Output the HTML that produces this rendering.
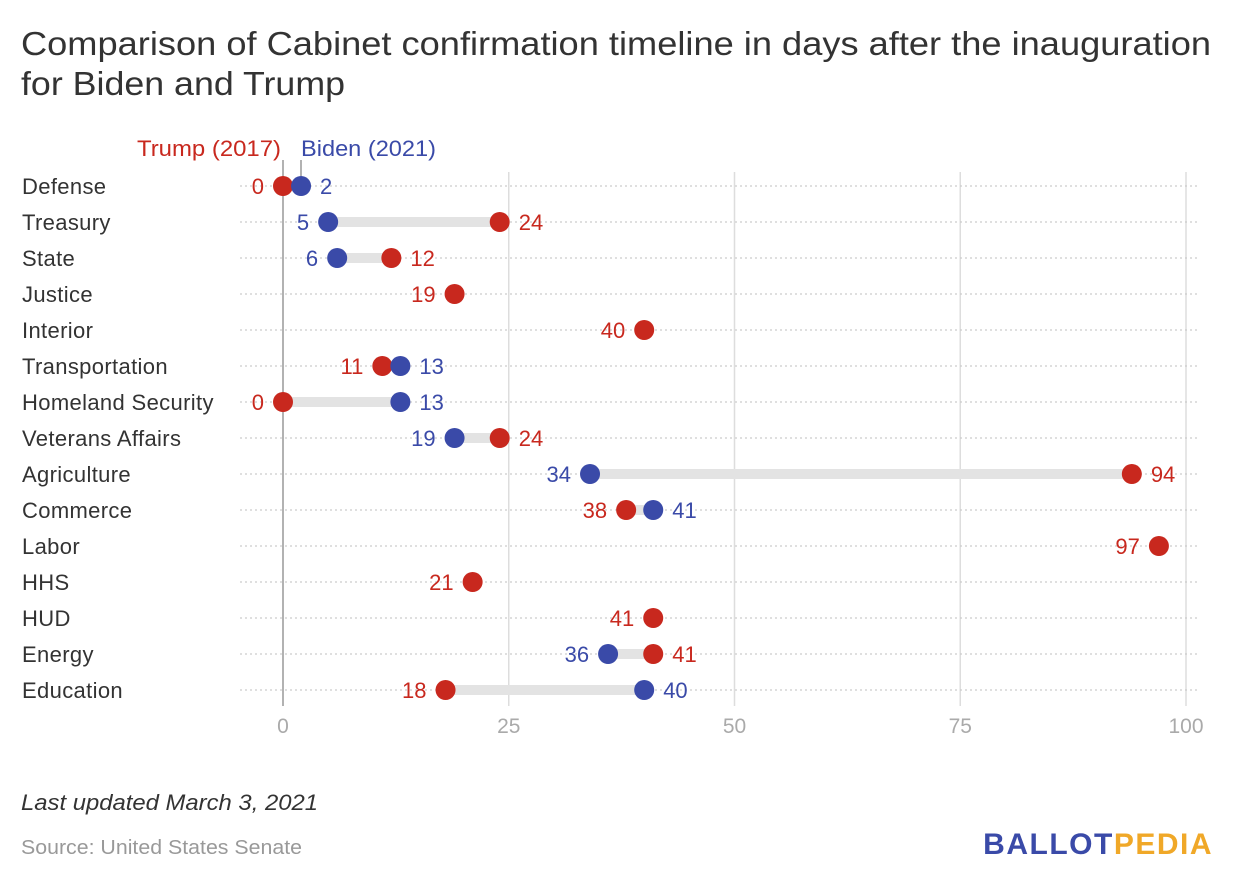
<!DOCTYPE html>
<html><head><meta charset="utf-8"><style>
body{margin:0;background:#fff;width:1240px;height:888px;overflow:hidden;font-family:"Liberation Sans",sans-serif}
</style></head><body>
<svg id="chart" width="1240" height="888" xmlns="http://www.w3.org/2000/svg" font-family="Liberation Sans, sans-serif">
<text x="21" y="55" font-size="33" fill="#333" textLength="1190" lengthAdjust="spacingAndGlyphs">Comparison of Cabinet confirmation timeline in days after the inauguration</text>
<text x="21" y="95" font-size="33" fill="#333" textLength="324" lengthAdjust="spacingAndGlyphs">for Biden and Trump</text>
<g id="grid"></g><g id="rows"></g><g id="marks"></g>
<text x="281" y="156" font-size="22" fill="#c8281e" text-anchor="end" textLength="144" lengthAdjust="spacingAndGlyphs">Trump (2017)</text>
<text x="301" y="156" font-size="22" fill="#3a4aa8" textLength="135" lengthAdjust="spacingAndGlyphs">Biden (2021)</text>
<line x1="301" y1="160" x2="301" y2="176" stroke="#999" stroke-width="1.5"/>
<text x="21" y="810" font-size="22" font-style="italic" fill="#333" textLength="297" lengthAdjust="spacingAndGlyphs">Last updated March 3, 2021</text>
<text x="21" y="854" font-size="20" fill="#999" textLength="281" lengthAdjust="spacingAndGlyphs">Source: United States Senate</text>
<text x="1213" y="854" font-size="30" font-weight="bold" letter-spacing="1.5" text-anchor="end"><tspan fill="#3a4aa8">BALLOT</tspan><tspan fill="#f0a828">PEDIA</tspan></text>
</svg>
<script>
const categories=["Defense","Treasury","State","Justice","Interior","Transportation","Homeland Security","Veterans Affairs","Agriculture","Commerce","Labor","HHS","HUD","Energy","Education"];
const trump=[0,24,12,19,40,11,0,24,94,38,97,21,41,41,18];
const biden=[2,5,6,null,null,13,13,19,34,41,null,null,null,36,40];
const ticks=[0,25,50,75,100];
const NS="http://www.w3.org/2000/svg";
const xS=v=>283+v*9.03;
const yS=i=>186+i*36;
const RED="#c8281e",BLUE="#3a4aa8";
function mk(parent,tag,attrs,txt){const e=document.createElementNS(NS,tag);for(const k in attrs)e.setAttribute(k,attrs[k]);if(txt!==undefined)e.textContent=txt;document.getElementById(parent).appendChild(e);return e;}
ticks.forEach(t=>{
  const l=mk("grid","line",{x1:xS(t),x2:xS(t),y1:t===0?160:172,y2:706,stroke:t===0?"#999":"#ddd","stroke-width":1.5});
  
  
  const tx=mk("grid","text",{x:xS(t),y:733,"font-size":21,fill:"#aaa","text-anchor":"middle"},t);
  
  
});
categories.forEach((c,i)=>{
  const y=yS(i);
  const r=mk("rows","line",{x1:240,x2:1200,y1:y,y2:y,stroke:"#ccc","stroke-width":1.2,"stroke-dasharray":"2 3"});
  
  
  const lab=mk("rows","text",{x:22,y:y+8,"font-size":22,fill:"#333","letter-spacing":"0.35"},c);
  
  
  const pts=[];
  if(trump[i]!==null)pts.push({v:trump[i],col:RED,s:"trump"});
  if(biden[i]!==null)pts.push({v:biden[i],col:BLUE,s:"biden"});
  if(pts.length===2){
    const bar=mk("marks","line",{x1:xS(pts[0].v),x2:xS(pts[1].v),y1:y,y2:y,stroke:"#e3e3e3","stroke-width":10});
    
    
  }
  pts.sort((a,b)=>a.v-b.v);
  pts.forEach((p,k)=>{
    const d=mk("marks","circle",{cx:xS(p.v),cy:y,r:10,fill:p.col});
    
    
    const right=(pts.length===2&&k===1);
    const t=mk("marks","text",{x:right?xS(p.v)+19:xS(p.v)-19,y:y+8,"font-size":22,fill:p.col,"text-anchor":right?"start":"end"},p.v);
    
    
  });
});
</script>
</body></html>
